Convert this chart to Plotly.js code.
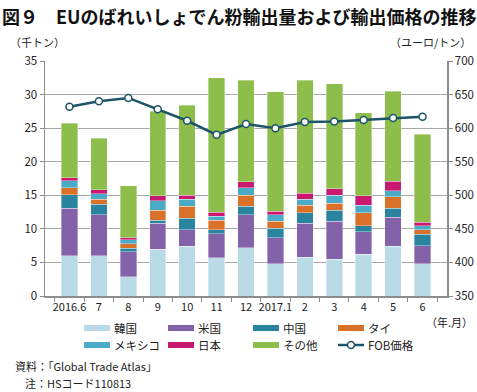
<!DOCTYPE html>
<html><head><meta charset="utf-8">
<script src="https://cdn.plot.ly/plotly-3.0.1.min.js"></script>
<style>body{margin:0;background:#fff}#chart{width:477px;height:392px}</style>
</head><body><div id="chart"></div>
<script>
const months = ['2016.6','7','8','9','10','11','12','2017.1','2','3','4','5','6'];
const korea  = [6.0, 6.0, 2.9, 7.0, 7.4, 5.7, 7.2, 4.8, 5.8, 5.5, 6.2, 7.4, 4.8];
const usa    = [7.1, 6.1, 3.7, 3.8, 2.5, 3.6, 4.9, 3.9, 5.0, 5.6, 3.4, 4.3, 2.7];
const china  = [2.0, 1.6, 0.5, 0.5, 1.7, 0.6, 1.3, 1.4, 1.6, 1.7, 0.9, 1.4, 1.7];
const thai   = [1.0, 0.7, 0.7, 1.5, 1.8, 1.4, 1.6, 1.0, 1.1, 1.0, 1.9, 1.7, 0.7];
const mexico = [1.1, 0.8, 0.6, 1.4, 1.0, 0.6, 1.1, 1.0, 0.9, 1.2, 1.1, 0.9, 0.6];
const japan  = [0.4, 0.6, 0.3, 0.7, 0.6, 0.6, 0.9, 0.5, 0.9, 1.0, 1.4, 1.4, 0.5];
const others = [8.1, 7.7, 7.7, 12.6, 13.4, 20.0, 15.1, 17.8, 16.8, 15.6, 12.4, 13.4, 13.1];
const fob    = [632, 640, 645, 628, 611, 590, 606, 600, 609, 610, 612, 615, 617];

const seriesNames = ['韓国','米国','中国','タイ','メキシコ','日本','その他'];
const lineName = 'FOB価格';
const seriesData = [korea, usa, china, thai, mexico, japan, others];
const seriesColors = ['#b9dbe7','#8462a9','#2a849f','#d97128','#4aabc7','#c9186f','#8dbe4b'];
const lineColor = '#1d5468';

const FONT = '"Noto Sans CJK JP", "Noto Sans", sans-serif';

// plot area in pixels: x 45..447, y 61..296
const PL = 45, PR = 447, PT = 61, PB = 296;
const px = v => (v - PL) / (PR - PL);
const py = v => (PB - v) / (PB - PT);

const traces = seriesNames.map((n, i) => ({
  type: 'bar', name: n, x: months, y: seriesData[i],
  marker: {color: seriesColors[i], line: {color: 'rgba(255,255,255,0.6)', width: 0.6}},
  hoverinfo: 'skip'
}));
traces.push({
  type: 'scatter', mode: 'lines+markers', name: lineName, x: months, y: fob, yaxis: 'y2',
  line: {color: lineColor, width: 2.5},
  marker: {symbol: 'circle', size: 7, color: '#ffffff', line: {color: lineColor, width: 1.5}}
});

// manual legend (wide swatches, 2 rows x 4 columns)
const colX = [84, 168, 253, 338];
const rowY = [328, 345];
const shapes = [];
const annotations = [];
const legendItems = seriesNames.map((n, i) => ({name: n, color: seriesColors[i], kind: 'bar'}));
legendItems.push({name: lineName, color: lineColor, kind: 'line'});
legendItems.forEach((it, k) => {
  const c = k % 4, r = Math.floor(k / 4);
  const x0 = colX[c], x1 = x0 + 26, y = rowY[r];
  if (it.kind === 'bar') {
    shapes.push({type: 'rect', xref: 'paper', yref: 'paper', x0: px(x0), x1: px(x1),
      y0: py(y + 3), y1: py(y - 3), fillcolor: it.color, line: {width: 0}});
  } else {
    shapes.push({type: 'line', xref: 'paper', yref: 'paper', x0: px(x0), x1: px(x1),
      y0: py(y), y1: py(y), line: {color: it.color, width: 2.5}});
    shapes.push({type: 'circle', xref: 'paper', yref: 'paper', x0: px(x0 + 9.5), x1: px(x0 + 16.5),
      y0: py(y + 3.5), y1: py(y - 3.5), fillcolor: '#fff', line: {color: it.color, width: 1.5}});
  }
  annotations.push({xref: 'paper', yref: 'paper', x: px(x1 + 2), y: py(y), xanchor: 'left',
    yanchor: 'middle', text: it.name, showarrow: false, font: {size: 11.5, color: '#222'}});
});

annotations.push(
  {xref: 'paper', yref: 'paper', x: px(0), y: py(1), xanchor: 'left', yanchor: 'top',
   text: '<b>図９　EUのばれいしょでん粉輸出量および輸出価格の推移</b>', showarrow: false,
   font: {size: 18, family: FONT, color: '#111'}},
  {xref: 'paper', yref: 'paper', x: px(8), y: py(42), xanchor: 'left', yanchor: 'middle',
   text: '（千トン）', showarrow: false, font: {size: 11}},
  {xref: 'paper', yref: 'paper', x: px(473), y: py(42), xanchor: 'right', yanchor: 'middle',
   text: '（ユーロ/トン）', showarrow: false, font: {size: 11}},
  {xref: 'paper', yref: 'paper', x: px(475), y: py(322), xanchor: 'right', yanchor: 'middle',
   text: '（年.月）', showarrow: false, font: {size: 11}},
  {xref: 'paper', yref: 'paper', x: px(13), y: py(366), xanchor: 'left', yanchor: 'middle',
   text: '資料：「Global Trade Atlas」', showarrow: false, font: {size: 11}},
  {xref: 'paper', yref: 'paper', x: px(23), y: py(383), xanchor: 'left', yanchor: 'middle',
   text: '注：HSコード110813', showarrow: false, font: {size: 11}}
);

const layout = {
  width: 477, height: 392,
  margin: {l: PL, r: 477 - PR, t: PT, b: 392 - PB},
  paper_bgcolor: '#fff', plot_bgcolor: '#fff',
  barmode: 'stack', bargap: 0.44,
  font: {family: FONT, size: 11, color: '#222'},
  showlegend: false,
  xaxis: {type: 'category', showgrid: false, showline: true, linecolor: '#8c8c8c', linewidth: 1.5,
    ticks: 'outside', tickson: 'boundaries', ticklen: 4, tickcolor: '#8c8c8c',
    tickangle: 0, tickfont: {size: 11}, automargin: false},
  yaxis: {range: [0, 35], dtick: 5, showgrid: true, gridcolor: '#a6a6a6', gridwidth: 1.2,
    showline: true, linecolor: '#8c8c8c', linewidth: 1.5, ticks: 'outside', ticklen: 4,
    tickcolor: '#8c8c8c', zeroline: false, tickfont: {size: 11.5}, automargin: false},
  yaxis2: {range: [350, 700], dtick: 50, overlaying: 'y', side: 'right', showgrid: false,
    showline: true, linecolor: '#8c8c8c', linewidth: 1.5, ticks: 'outside', ticklen: 4,
    tickcolor: '#8c8c8c', zeroline: false, tickfont: {size: 11.5}, automargin: false},
  shapes: shapes,
  annotations: annotations
};
Plotly.newPlot('chart', traces, layout, {displayModeBar: false, staticPlot: true});
</script></body></html>
